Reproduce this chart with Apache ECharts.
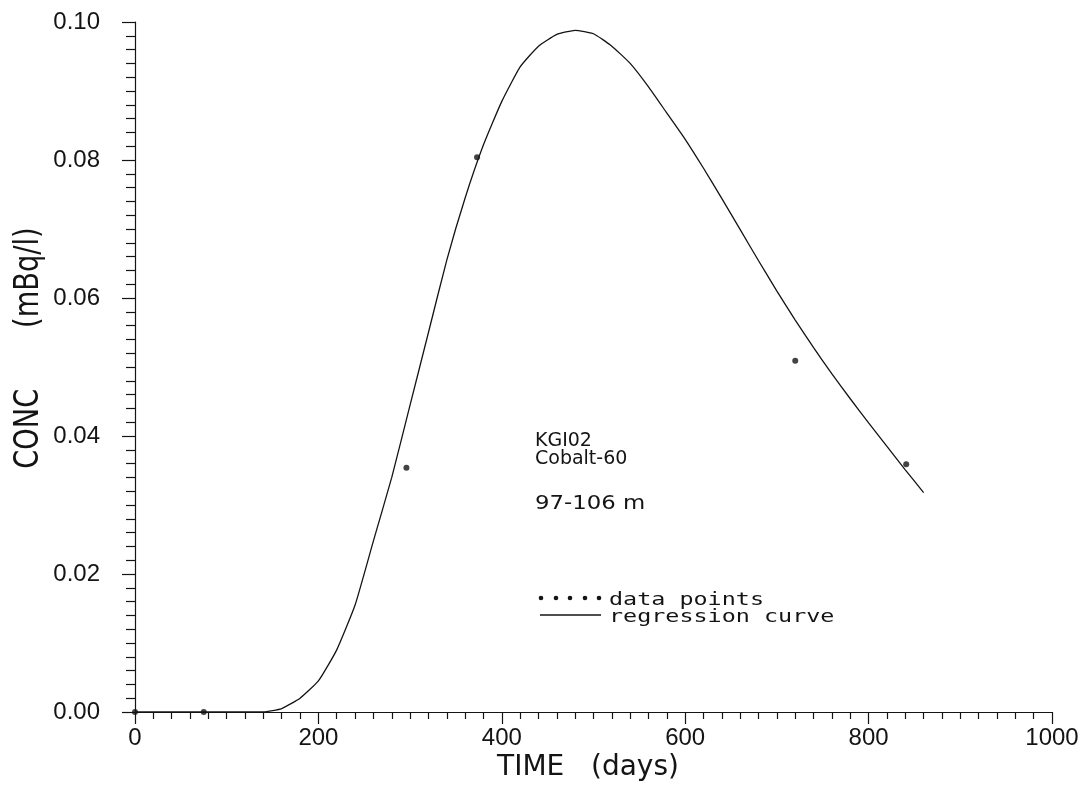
<!DOCTYPE html>
<html>
<head>
<meta charset="utf-8">
<script src="https://cdn.jsdelivr.net/npm/echarts@6/dist/echarts.min.js"></script>
<style>
html,body{margin:0;padding:0;background:#fff;}
#chart{width:1087px;height:787px;}
</style>
</head>
<body>
<div id="chart"></div>
<script>
// Regression curve (days, mBq/l)
const curveDays = [0,20,40,60,80,100,120,140,160,180,200,220,240,260,280,300,320,340,360,380,400,420,440,460,480,500,520,540,560,580,600,620,640,660,680,700,720,740,760,780,800,820,840,860];
const curveConc = [0,0,0,0,0,0,0,0,0.0005,0.0020,0.0045,0.0090,0.0155,0.0248,0.0340,0.0445,0.0550,0.0655,0.0745,0.0822,0.0885,0.0935,0.0965,0.0982,0.0988,0.0983,0.0965,0.0940,0.0906,0.0868,0.0830,0.0788,0.0744,0.0699,0.0654,0.0610,0.0568,0.0528,0.0490,0.0454,0.0419,0.0385,0.0351,0.0318];
// Measured data points
const pointDays = [0, 75, 296, 373, 720, 841];
const pointConc = [0, 0, 0.0354, 0.0804, 0.0509, 0.0359];
// Axis ticks
const xTicks = [0, 200, 400, 600, 800, 1000];
const yTicks = [0.00, 0.02, 0.04, 0.06, 0.08, 0.10];
// Texts
const xTitle = 'TIME   (days)';
const yTitle = 'CONC       (mBq/l)';
const noteLines = ['KGI02', 'Cobalt-60', '97-106 m'];
const legendNames = ['data points', 'regression curve'];

const ink = '#141414';
const chart = echarts.init(document.getElementById('chart'), null, {renderer: 'canvas'});

const curve = curveDays.map((d, i) => [d, curveConc[i]]);
const points = pointDays.map((d, i) => [d, pointConc[i]]);

const option = {
  backgroundColor: '#ffffff',
  animation: false,
  grid: {left: 135, right: 35, top: 22, bottom: 75, containLabel: false},
  xAxis: {
    type: 'value',
    min: xTicks[0], max: xTicks[xTicks.length - 1], interval: xTicks[1] - xTicks[0],
    axisLine: {show: true, onZero: false, lineStyle: {color: ink, width: 1.2}},
    axisTick: {show: true, length: 12, lineStyle: {color: ink, width: 1.2}},
    minorTick: {show: true, splitNumber: 10, length: 7, lineStyle: {color: ink, width: 1.2}},
    splitLine: {show: false},
    axisLabel: {margin: 14, color: ink, fontFamily: 'Liberation Sans', fontSize: 24,
      formatter: v => String(v)}
  },
  yAxis: {
    type: 'value',
    min: yTicks[0], max: yTicks[yTicks.length - 1], interval: yTicks[1] - yTicks[0],
    axisLine: {show: true, onZero: false, lineStyle: {color: ink, width: 1.2}},
    axisTick: {show: true, length: 13, lineStyle: {color: ink, width: 1.2}},
    minorTick: {show: true, splitNumber: 10, length: 9, lineStyle: {color: ink, width: 1.2}},
    splitLine: {show: false},
    axisLabel: {margin: 35, color: ink, fontFamily: 'Liberation Sans', fontSize: 24,
      formatter: v => v.toFixed(2)}
  },
  series: [
    {
      name: legendNames[1],
      type: 'line',
      data: curve,
      showSymbol: false,
      symbol: 'none',
      smooth: 0.15,
      lineStyle: {color: ink, width: 1.3},
      z: 3
    },
    {
      name: legendNames[0],
      type: 'scatter',
      data: points,
      symbol: 'circle',
      symbolSize: 6,
      itemStyle: {color: ink},
      z: 4
    }
  ],
  graphic: [
    {type: 'text', x: 588, y: 768, silent: true,
      style: {text: xTitle, fill: ink, font: '28px "DejaVu Sans"', align: 'center', verticalAlign: 'middle'}},
    {type: 'text', x: 29, y: 348, rotation: Math.PI / 2, scaleY: 1.3, scaleX: 1.05, silent: true,
      style: {text: yTitle, fill: ink, font: '26px "DejaVu Sans"', align: 'center', verticalAlign: 'middle'}},
    {type: 'text', x: 535, y: 441, silent: true,
      style: {text: noteLines[0], fill: ink, font: '19px "DejaVu Sans"', align: 'left', verticalAlign: 'middle'}},
    {type: 'text', x: 535, y: 459, silent: true,
      style: {text: noteLines[1], fill: ink, font: '19px "DejaVu Sans"', align: 'left', verticalAlign: 'middle'}},
    {type: 'text', x: 535, y: 504, silent: true, scaleX: 1.2,
      style: {text: noteLines[2], fill: ink, font: '19px "DejaVu Sans"', align: 'left', verticalAlign: 'middle'}},
    // legend swatches
    {type: 'circle', silent: true, shape: {cx: 541, cy: 598, r: 2.3}, style: {fill: ink}},
    {type: 'circle', silent: true, shape: {cx: 556, cy: 598, r: 2.3}, style: {fill: ink}},
    {type: 'circle', silent: true, shape: {cx: 570, cy: 598, r: 2.3}, style: {fill: ink}},
    {type: 'circle', silent: true, shape: {cx: 585, cy: 598, r: 2.3}, style: {fill: ink}},
    {type: 'circle', silent: true, shape: {cx: 599, cy: 598, r: 2.3}, style: {fill: ink}},
    {type: 'line', silent: true, shape: {x1: 540, y1: 615, x2: 601, y2: 615}, style: {stroke: ink, lineWidth: 1.3}},
    {type: 'text', x: 609, y: 600, silent: true, scaleX: 1.3,
      style: {text: legendNames[0], fill: ink, font: '18px "DejaVu Sans Mono"', align: 'left', verticalAlign: 'middle'}},
    {type: 'text', x: 609, y: 617, silent: true, scaleX: 1.3,
      style: {text: legendNames[1], fill: ink, font: '18px "DejaVu Sans Mono"', align: 'left', verticalAlign: 'middle'}}
  ]
};
chart.setOption(option);
</script>
</body>
</html>
